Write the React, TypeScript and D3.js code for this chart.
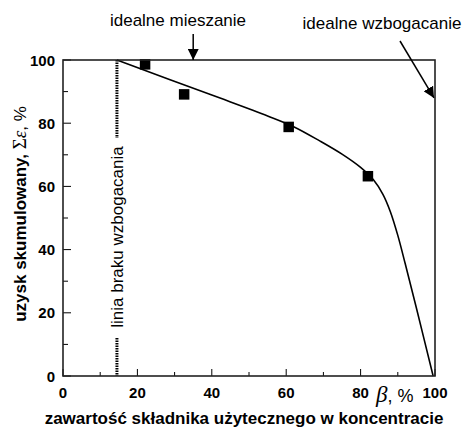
import { useEffect, useRef } from "react"
import * as d3 from "d3"

// measured points (β, Σε)
const pointsX = [22, 32.5, 60.6, 81.9]
const pointsY = [98.7, 89.2, 78.9, 63.3]

// fitted curve
const curveX = [14.5, 40, 55, 62, 69, 75, 80, 83.5, 86, 88, 90, 92, 95, 99.5]
const curveY = [100, 88.9, 82.3, 78.9, 74.4, 70.2, 66, 62, 57.5, 52, 44.5, 35.5, 21.5, 0]

const xTicks = [0, 20, 40, 60, 80, 100]
const yTicks = [0, 20, 40, 60, 80, 100]
const noEnrichX = 14.5
const mixArrowX = 35

const W = 465
const H = 432
const left = 63
const right = 435
const top = 60
const bottom = 376

const App = () => {
  const ref = useRef<SVGSVGElement>(null)

  useEffect(() => {
    const svg = d3.select(ref.current)
    svg.selectAll("*").remove()

    const x = d3.scaleLinear().domain([0, 100]).range([left, right])
    const y = d3.scaleLinear().domain([0, 100]).range([bottom, top])
    const sans = "'Liberation Sans', Arial, sans-serif"
    const serif = "'Liberation Serif', 'Times New Roman', serif"

    const defs = svg.append("defs")
    defs
      .append("marker")
      .attr("id", "head")
      .attr("viewBox", "0 0 10 10")
      .attr("refX", 10)
      .attr("refY", 5)
      .attr("markerWidth", 11)
      .attr("markerHeight", 11)
      .attr("markerUnits", "userSpaceOnUse")
      .attr("orient", "auto")
      .append("path")
      .attr("d", "M0,0 L10,5 L0,10 Z")
      .attr("fill", "#000")

    // ticks (inward)
    const g = svg.append("g")
    d3.range(0, 101, 10).forEach((v) => {
      const major = v % 20 === 0
      g.append("line")
        .attr("x1", x(v)).attr("x2", x(v))
        .attr("y1", bottom).attr("y2", bottom - (major ? 7 : 4))
        .attr("stroke", "#000").attr("stroke-width", 1)
      g.append("line")
        .attr("x1", left).attr("x2", left + (major ? 8 : 5))
        .attr("y1", y(v)).attr("y2", y(v))
        .attr("stroke", "#000").attr("stroke-width", 1)
    })

    g.selectAll(".xt")
      .data(xTicks)
      .join("text")
      .attr("x", (d) => x(d))
      .attr("y", 398)
      .attr("text-anchor", "middle")
      .attr("font-family", sans)
      .attr("font-weight", "bold")
      .attr("font-size", 15)
      .text((d) => d)

    g.selectAll(".yt")
      .data(yTicks)
      .join("text")
      .attr("x", 55)
      .attr("y", (d) => y(d) + 5.5)
      .attr("text-anchor", "end")
      .attr("font-family", sans)
      .attr("font-weight", "bold")
      .attr("font-size", 15)
      .text((d) => d)

    // dotted "no enrichment" line with label gap
    const dot = (y1: number, y2: number) =>
      svg.append("line")
        .attr("x1", x(noEnrichX)).attr("x2", x(noEnrichX))
        .attr("y1", y1).attr("y2", y2)
        .attr("stroke", "#000").attr("stroke-width", 3)
        .attr("stroke-dasharray", "1.5,1")
    dot(y(100), 138)
    dot(338, y(0))
    svg.append("text")
      .attr("transform", `translate(${x(noEnrichX) + 6},237) rotate(-90)`)
      .attr("text-anchor", "middle")
      .attr("font-family", sans)
      .attr("font-size", 17)
      .text("linia braku wzbogacania")

    // curve
    const line = d3
      .line<number>()
      .x((_, i) => x(curveX[i]))
      .y((d) => y(d))
      .curve(d3.curveCatmullRom.alpha(0.5))
    svg.append("path")
      .attr("d", line(curveY))
      .attr("fill", "none")
      .attr("stroke", "#000")
      .attr("stroke-width", 1.6)

    // squares
    svg.selectAll(".pt")
      .data(pointsX)
      .join("rect")
      .attr("x", (d) => x(d) - 5)
      .attr("y", (_, i) => y(pointsY[i]) - 5)
      .attr("width", 10.5)
      .attr("height", 10.5)
      .attr("fill", "#000")

    // frame
    svg.append("rect")
      .attr("x", left).attr("y", top)
      .attr("width", right - left).attr("height", bottom - top)
      .attr("fill", "none").attr("stroke", "#222").attr("stroke-width", 1.6)

    // top annotations
    svg.append("text")
      .attr("x", 178).attr("y", 26)
      .attr("text-anchor", "middle")
      .attr("font-family", sans).attr("font-size", 17)
      .text("idealne mieszanie")
    svg.append("line")
      .attr("x1", x(mixArrowX)).attr("x2", x(mixArrowX))
      .attr("y1", 34).attr("y2", y(100))
      .attr("stroke", "#000").attr("stroke-width", 1.5)
      .attr("marker-end", "url(#head)")

    svg.append("text")
      .attr("x", 382).attr("y", 29)
      .attr("text-anchor", "middle")
      .attr("font-family", sans).attr("font-size", 17)
      .text("idealne wzbogacanie")
    svg.append("line")
      .attr("x1", 400).attr("y1", 41)
      .attr("x2", x(100) - 1).attr("y2", y(88))
      .attr("stroke", "#000").attr("stroke-width", 1.5)
      .attr("marker-end", "url(#head)")

    // axis titles
    const yl = svg.append("text")
      .attr("transform", `translate(26,214) rotate(-90)`)
      .attr("text-anchor", "middle")
      .attr("font-family", sans).attr("font-weight", "bold").attr("font-size", 17)
    yl.append("tspan").text("uzysk skumulowany,  ")
    yl.append("tspan").attr("font-family", serif).attr("font-weight", "normal").attr("font-size", 19).text("Σ")
    yl.append("tspan").attr("font-family", serif).attr("font-weight", "normal").attr("font-style", "italic").attr("font-size", 19).text("ε")
    yl.append("tspan").attr("font-weight", "normal").text(", %")

    const bl = svg.append("text")
      .attr("x", 376).attr("y", 402)
      .attr("font-family", sans).attr("font-size", 18)
    bl.append("tspan").attr("font-family", serif).attr("font-style", "italic").attr("font-size", 23).text("β")
    bl.append("tspan").text(", %")

    svg.append("text")
      .attr("x", 244).attr("y", 424)
      .attr("text-anchor", "middle")
      .attr("font-family", sans).attr("font-weight", "bold").attr("font-size", 17)
      .text("zawartość składnika użytecznego w koncentracie")
  }, [])

  return (
    <svg
      ref={ref}
      width={W}
      height={H}
      style={{ position: "absolute", left: 0, top: 0, background: "#fff" }}
    />
  )
}

export default App
